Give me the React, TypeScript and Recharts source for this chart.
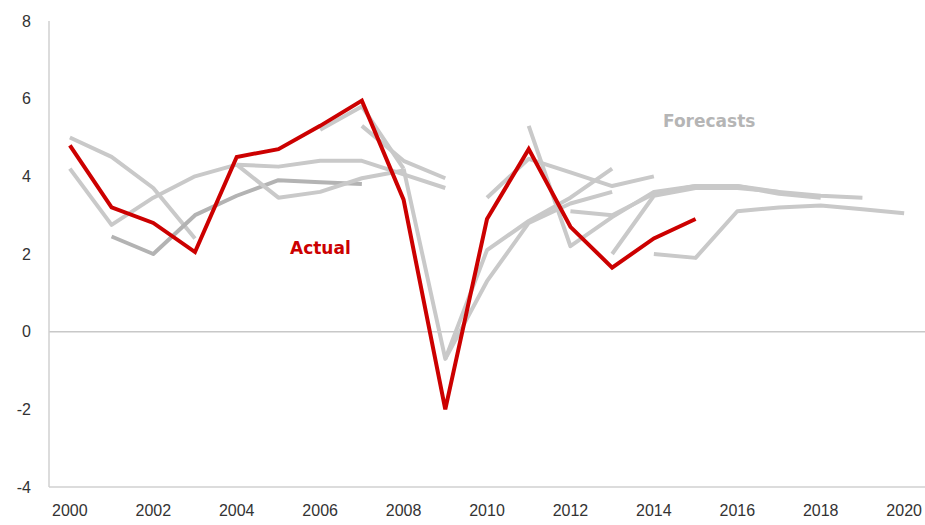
import React from "react";
import { LineChart, Line, XAxis, YAxis, ReferenceLine } from "recharts";

const years = [2000, 2001, 2002, 2003, 2004, 2005, 2006, 2007, 2008, 2009, 2010, 2011, 2012, 2013, 2014, 2015, 2016, 2017, 2018, 2019, 2020];
const xTicks = [2000, 2002, 2004, 2006, 2008, 2010, 2012, 2014, 2016, 2018, 2020];
const yTicks = [-4, -2, 0, 2, 4, 6, 8];

const actualStart = 2000;
const actual = [4.8, 3.2, 2.8, 2.05, 4.5, 4.7, 5.3, 5.95, 3.4, -2.0, 2.9, 4.7, 2.7, 1.65, 2.4, 2.9];

// Forecast vintages: first year covered, then values
const forecastStarts = [2000, 2000, 2001, 2004, 2004, 2006, 2008, 2007, 2009, 2010, 2011, 2012, 2013, 2014];
const f01 = [5.0, 4.5, 3.7, 2.4];
const f02 = [4.2, 2.75, 3.45, 4.0, 4.3];
const f03 = [2.45, 2.0, 3.0, 3.5, 3.9, 3.85, 3.8];
const f04 = [4.3, 4.25, 4.4, 4.4, 4.05, 3.7];
const f05 = [4.3, 3.45, 3.6, 3.95, 4.15];
const f06 = [5.2, 5.8, 4.2];
const f07 = [4.2, -0.7, 2.1, 2.85, 3.45, 4.2];
const f08 = [5.3, 4.4, 3.95];
const f09 = [-0.7, 1.3, 2.8, 3.3, 3.6];
const f10 = [3.45, 4.45, 4.1, 3.75, 4.0];
const f11 = [5.3, 2.2, 2.95, 3.6, 3.75, 3.75, 3.6];
const f12 = [3.1, 3.0, 3.55, 3.75, 3.75, 3.55, 3.45];
const f13 = [2.0, 3.5, 3.7, 3.7, 3.6, 3.5, 3.45];
const f14 = [2.0, 1.9, 3.1, 3.2, 3.25, 3.15, 3.05];
const forecasts = [f01, f02, f03, f04, f05, f06, f07, f08, f09, f10, f11, f12, f13, f14];
const forecastColors = ["#c9c9c9", "#c9c9c9", "#b3b3b3", "#c9c9c9", "#c9c9c9", "#c9c9c9", "#c9c9c9", "#c9c9c9", "#c9c9c9", "#c9c9c9", "#c9c9c9", "#c9c9c9", "#c9c9c9", "#c9c9c9"];

const data = years.map((y) => {
  const row: Record<string, number | null> = { year: y };
  const ai = y - actualStart;
  row.actual = ai >= 0 && ai < actual.length ? actual[ai] : null;
  forecasts.forEach((arr, k) => {
    const i = y - forecastStarts[k];
    row["f" + k] = i >= 0 && i < arr.length ? arr[i] : null;
  });
  return row;
});

export default function App() {
  return (
    <div style={{ position: "absolute", left: 0, top: 0, width: 925, height: 525, background: "#fff" }}>
      <LineChart width={925} height={525} data={data} margin={{ top: 21, right: 0, bottom: 0, left: 0 }}>
        <XAxis
          dataKey="year"
          type="number"
          domain={[1999.5, 2020.5]}
          ticks={xTicks}
          tickLine={false}
          tickSize={0}
          tickMargin={18}
          height={38}
          axisLine={{ stroke: "#d0d0d0", strokeWidth: 1.5 }}
          tick={{ fill: "#333", fontSize: 16, fontFamily: "Liberation Sans, Arial, sans-serif" }}
        />
        <YAxis
          type="number"
          domain={[-4, 8]}
          ticks={yTicks}
          width={49}
          tickLine={false}
          tickSize={0}
          tickMargin={18}
          axisLine={{ stroke: "#d0d0d0", strokeWidth: 1.5 }}
          tick={{ fill: "#333", fontSize: 16, fontFamily: "Liberation Sans, Arial, sans-serif" }}
        />
        <ReferenceLine y={0} stroke="#c8c8c8" strokeWidth={1.5} />
        {forecasts.map((_, k) => (
          <Line
            key={k}
            dataKey={"f" + k}
            stroke={forecastColors[k]}
            strokeWidth={4}
            dot={false}
            activeDot={false}
            isAnimationActive={false}
            strokeLinejoin="round"
          />
        ))}
        <Line
          dataKey="actual"
          stroke="#cc0000"
          strokeWidth={4}
          dot={false}
          activeDot={false}
          isAnimationActive={false}
          strokeLinejoin="miter"
        />
      </LineChart>
      <div style={{ position: "absolute", left: 290, top: 238, fontFamily: "DejaVu Sans, sans-serif", fontWeight: "bold", fontSize: 17, lineHeight: "20px", color: "#cc0000" }}>
        Actual
      </div>
      <div style={{ position: "absolute", left: 663, top: 111, fontFamily: "DejaVu Sans, sans-serif", fontWeight: "bold", fontSize: 17, lineHeight: "20px", color: "#b5b5b5" }}>
        Forecasts
      </div>
    </div>
  );
}
